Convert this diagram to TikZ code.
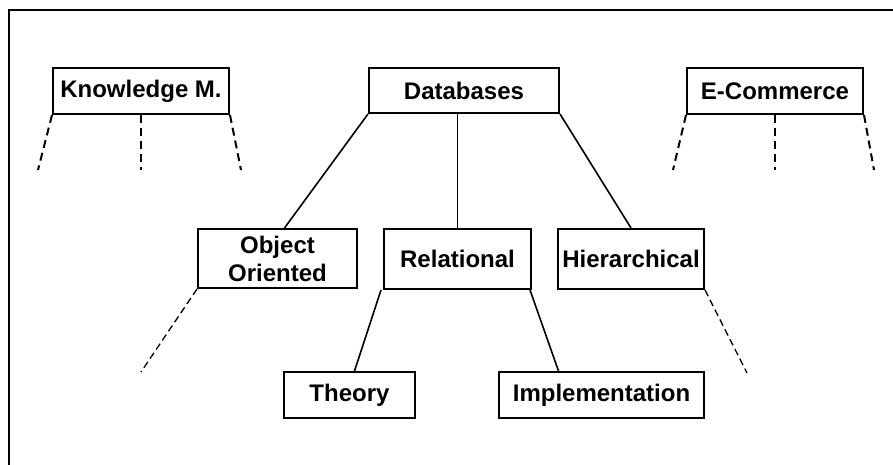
\documentclass[tikz,border=0pt]{standalone}
\usepackage{fontspec}
\setmainfont{Liberation Sans}

\begin{document}
\begin{tikzpicture}[x=1pt,y=-1pt,font=\fontsize{24}{28}\selectfont\bfseries]
	
	% Styles for topic boxes and links
	\tikzset{
		topic/.style={rectangle,draw,line width=2pt,inner sep=0pt,align=center},
		link/.style={line width=1.6pt},
		hint/.style={line width=2pt,dash pattern=on 8pt off 5pt},
		hintthin/.style={line width=1.3pt,dash pattern=on 7pt off 4pt}
	}
	
	\useasboundingbox (0,0) rectangle (893,465);
	
	% Frame (top and left edge only)
	\draw[line width=2.5pt] (9,465) -- (9,10) -- (893,10);
	
	%========================================
	% Top row
	%========================================
	\node[topic,minimum width=176pt,minimum height=46pt] (know) at (141,91) {Knowledge M.};
	\node[topic,minimum width=190pt,minimum height=45pt] (db) at (464,90.5) {Databases};
	\node[topic,minimum width=176pt,minimum height=46pt] (ecom) at (775,91) {E-Commerce};
	
	% Dashed hints below the side topics
	\coordinate (knowL) at (38,170);
	\coordinate (knowR) at (241,170);
	\coordinate (ecomL) at (673,170);
	\coordinate (ecomR) at (874,170);
	\draw[hint] (know.south west) -- (knowL);
	\draw[hint] (know.south) -- (know.south |- knowL);
	\draw[hint] (know.south east) -- (knowR);
	\draw[hint] (ecom.south west) -- (ecomL);
	\draw[hint] (ecom.south) -- (ecom.south |- ecomL);
	\draw[hint] (ecom.south east) -- (ecomR);
	
	%========================================
	% Middle row: kinds of databases
	%========================================
	\node[topic,minimum width=159pt,minimum height=59pt] (oo) at (277.5,258.5) {Object\\Oriented};
	\node[topic,minimum width=147pt,minimum height=60pt] (rel) at (457.5,259) {Relational};
	\node[topic,minimum width=146pt,minimum height=60pt] (hier) at (631,259) {Hierarchical};
	
	\draw[link] (db.south west) -- ([xshift=7pt]oo.north);
	\draw[link] (rel.north) -- (rel.north |- db.south);
	\draw[link] (db.south east) -- (hier.north);
	
	\coordinate (ooEnd) at (141,372);
	\coordinate (hierEnd) at (747,373);
	\draw[hintthin] (oo.south west) -- (ooEnd);
	\draw[hintthin] (hier.south east) -- (hierEnd);
	
	%========================================
	% Bottom row: relational topics
	%========================================
	\node[topic,minimum width=131pt,minimum height=46pt] (theory) at (349.5,395) {Theory};
	\node[topic,minimum width=205pt,minimum height=46pt] (impl) at (601.5,395) {Implementation};
	
	\draw[link] ([xshift=-2pt]rel.south west) -- ([xshift=5pt]theory.north);
	\draw[link] ([xshift=-2pt]rel.south east) -- ([xshift=-43pt]impl.north);
	
\end{tikzpicture}
\end{document}
